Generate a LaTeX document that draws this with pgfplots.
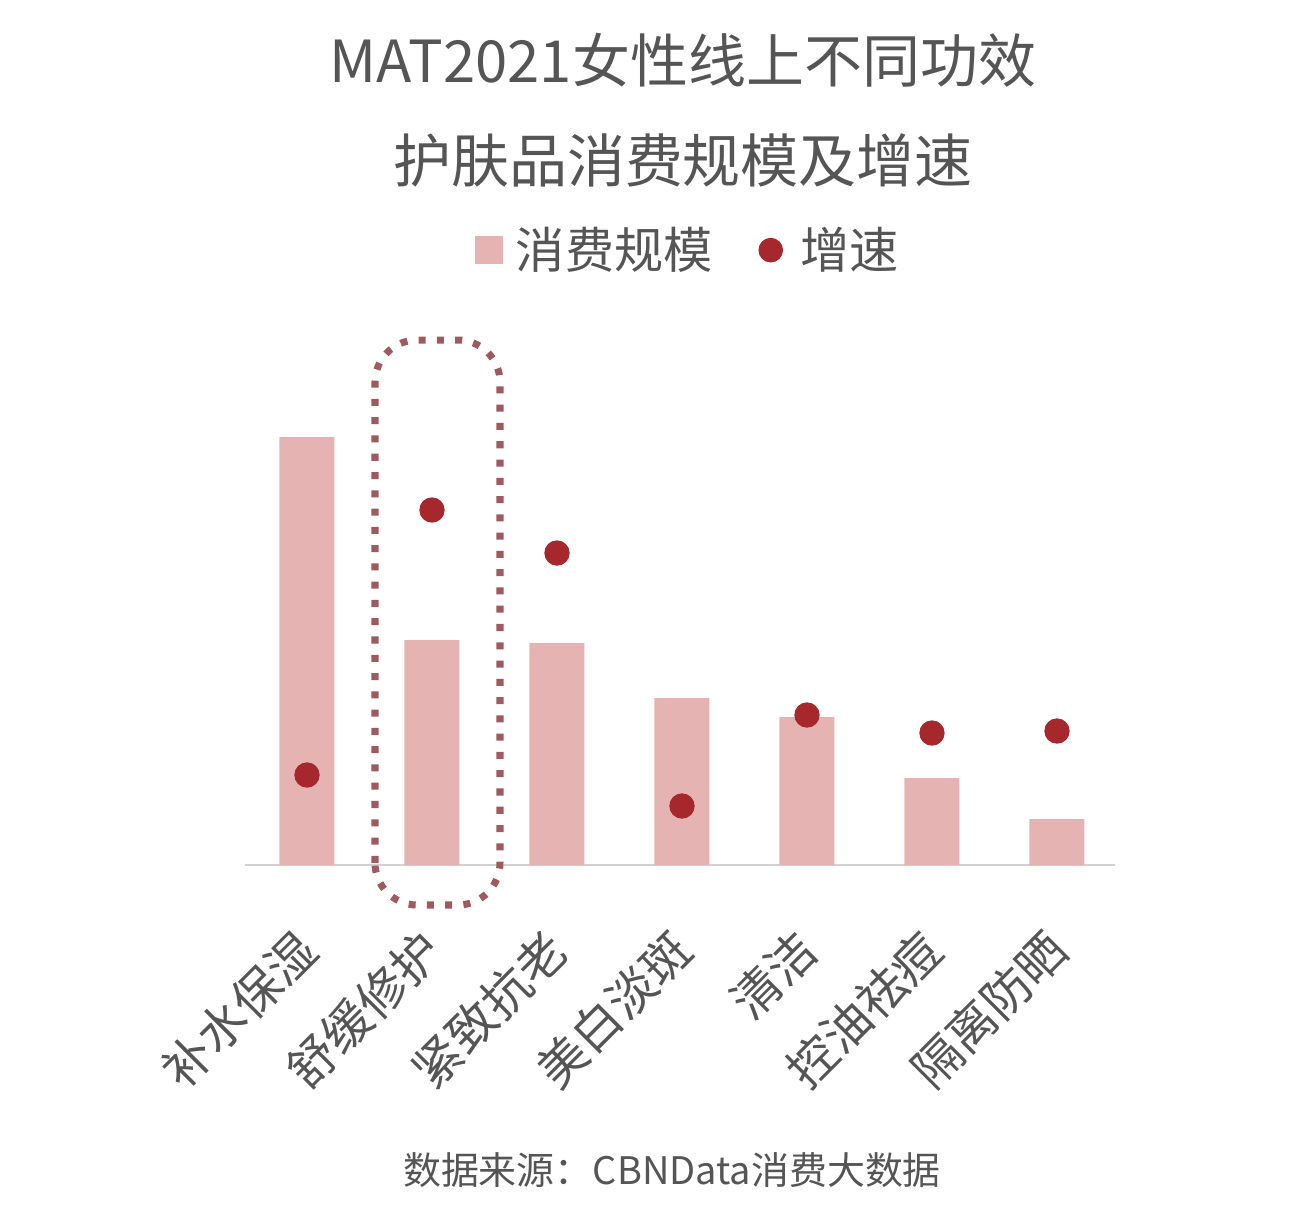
\documentclass[border=0pt]{standalone}
\usepackage{pgfplots}
\pgfplotsset{compat=1.18}
\usepackage{fontspec}
\setmainfont{Noto Sans CJK SC}
\definecolor{barpink}{HTML}{E6B3B3}
\definecolor{dotred}{HTML}{A6282C}
\definecolor{boxred}{HTML}{9E5A5E}
\definecolor{txtgray}{HTML}{555555}
\begin{document}
\begin{tikzpicture}
% fixed page frame: 1 px of the reference = 0.1 mm
\path (-2.45,-3.49) rectangle (10.59,8.65);
\begin{axis}[
  at={(0,0)}, anchor=south west,
  scale only axis,
  width=8.7cm, height=5.6cm,
  xmin=-0.496, xmax=6.464,
  ymin=0, ymax=560,
  axis x line*=bottom,
  axis y line=none,
  x axis line style={draw=black!18, line width=0.8pt, -},
  xtick={0,...,6},
  xticklabels={补水保湿,舒缓修护,紧致抗老,美白淡斑,清洁,控油祛痘,隔离防晒},
  xticklabel style={rotate=45, anchor=east, font=\fontsize{13.8}{16}\selectfont, text=txtgray, xshift=-11.6pt, yshift=-15.4pt},
  major tick length=0pt,
  ytick=\empty,
  clip=false,
  legend style={at={(0.512,1.098)}, anchor=center, draw=none, fill=none,
    font=\fontsize{14}{16}\selectfont, text=txtgray,
    /tikz/every even column/.append style={column sep=11pt}},
  legend columns=2,
]
\addplot[ybar, bar width=0.55cm, fill=barpink, draw=none, bar shift=0pt,
  legend image code/.code={\fill[barpink] (0cm,-0.14cm) rectangle (0.28cm,0.14cm); \path (0.34cm,0);}]
  coordinates {(0,428) (1,225) (2,222) (3,167) (4,148) (5,87) (6,46)};
\addlegendentry{消费规模}
\addplot[only marks, mark=*, mark size=3.4pt, color=dotred,
  legend image code/.code={\fill[dotred] (0.14cm,0cm) circle (3.3pt); \path (0.36cm,0);}]
  coordinates {(0,90) (1,355) (2,312) (3,59) (4,150) (5,132) (6,134)};
\addlegendentry{增速}
\draw[boxred, line width=2pt, dash pattern=on 2pt off 3.2pt, rounded corners=12pt]
  (axis cs:0.544,-40) rectangle (axis cs:1.544,525);
\end{axis}
\node[text=txtgray, align=center, font=\fontsize{16.5}{28.5}\selectfont] at (4.38,7.55)
  {MAT2021女性线上不同功效\\护肤品消费规模及增速};
\node[text=txtgray, font=\fontsize{10.8}{13}\selectfont] at (4.27,-3.05)
  {数据来源：CBNData消费大数据};
\end{tikzpicture}
\end{document}
